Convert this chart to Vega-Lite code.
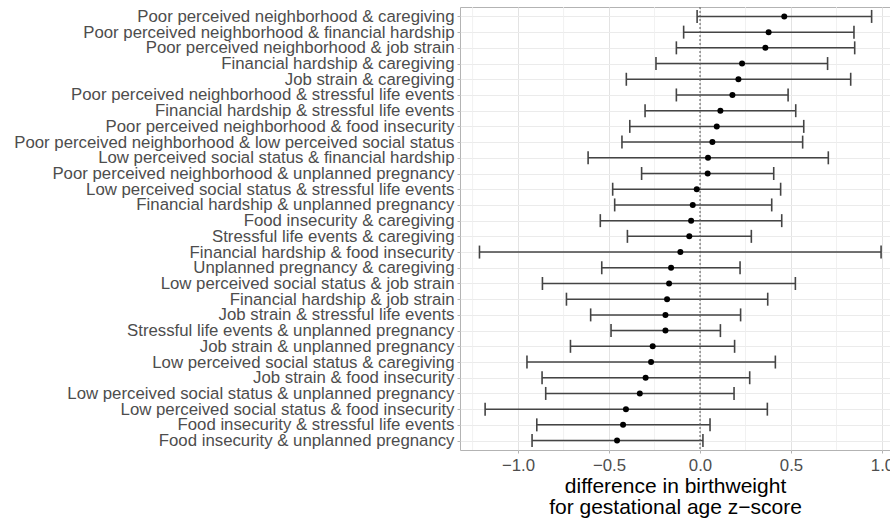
{
  "$schema": "https://vega.github.io/schema/vega-lite/v6.json",
  "width": 430,
  "height": 443,
  "autosize": {"type": "none"},
  "padding": {"left": 460, "top": 7, "right": 0, "bottom": 71},
  "background": "white",
  "config": {
    "view": {"stroke": "#b3b3b3", "strokeWidth": 1},
    "font": "Liberation Sans",
    "axis": {"gridColor": "#e3e3e3", "gridWidth": 1, "domain": false, "tickColor": "#b3b3b3", "tickSize": 3, "labelFont": "Liberation Sans", "labelColor": "#4d4d4d", "labelFontSize": 16.8, "titleFont": "Liberation Sans", "titleFontWeight": "normal", "titleColor": "#000000"},
    "axisX": {"labelPadding": 4, "titleFontSize": 21, "titleLineHeight": 21, "titlePadding": 2},
    "axisY": {"grid": true, "gridColor": "#ebebeb", "labelPadding": 3, "labelLimit": 500}
  },
  "datasets": {
    "est": [
      {"label": "Poor perceived neighborhood & caregiving", "est": 0.463, "lo": -0.016, "hi": 0.943},
      {"label": "Poor perceived neighborhood & financial hardship", "est": 0.377, "lo": -0.090, "hi": 0.846},
      {"label": "Poor perceived neighborhood & job strain", "est": 0.359, "lo": -0.130, "hi": 0.850},
      {"label": "Financial hardship & caregiving", "est": 0.231, "lo": -0.242, "hi": 0.701},
      {"label": "Job strain & caregiving", "est": 0.211, "lo": -0.405, "hi": 0.828},
      {"label": "Poor perceived neighborhood & stressful life events", "est": 0.178, "lo": -0.130, "hi": 0.484},
      {"label": "Financial hardship & stressful life events", "est": 0.112, "lo": -0.302, "hi": 0.526},
      {"label": "Poor perceived neighborhood & food insecurity", "est": 0.092, "lo": -0.386, "hi": 0.570},
      {"label": "Poor perceived neighborhood & low perceived social status", "est": 0.068, "lo": -0.429, "hi": 0.564},
      {"label": "Low perceived social status & financial hardship", "est": 0.044, "lo": -0.615, "hi": 0.705},
      {"label": "Poor perceived neighborhood & unplanned pregnancy", "est": 0.042, "lo": -0.321, "hi": 0.405},
      {"label": "Low perceived social status & stressful life events", "est": -0.018, "lo": -0.480, "hi": 0.443},
      {"label": "Financial hardship & unplanned pregnancy", "est": -0.040, "lo": -0.469, "hi": 0.394},
      {"label": "Food insecurity & caregiving", "est": -0.049, "lo": -0.548, "hi": 0.449},
      {"label": "Stressful life events & caregiving", "est": -0.059, "lo": -0.399, "hi": 0.282},
      {"label": "Financial hardship & food insecurity", "est": -0.108, "lo": -1.212, "hi": 0.995},
      {"label": "Unplanned pregnancy & caregiving", "est": -0.159, "lo": -0.540, "hi": 0.220},
      {"label": "Low perceived social status & job strain", "est": -0.170, "lo": -0.866, "hi": 0.524},
      {"label": "Financial hardship & job strain", "est": -0.181, "lo": -0.734, "hi": 0.372},
      {"label": "Job strain & stressful life events", "est": -0.190, "lo": -0.601, "hi": 0.223},
      {"label": "Stressful life events & unplanned pregnancy", "est": -0.190, "lo": -0.489, "hi": 0.112},
      {"label": "Job strain & unplanned pregnancy", "est": -0.260, "lo": -0.712, "hi": 0.190},
      {"label": "Low perceived social status & caregiving", "est": -0.269, "lo": -0.951, "hi": 0.414},
      {"label": "Job strain & food insecurity", "est": -0.299, "lo": -0.868, "hi": 0.273},
      {"label": "Low perceived social status & unplanned pregnancy", "est": -0.331, "lo": -0.848, "hi": 0.187},
      {"label": "Low perceived social status & food insecurity", "est": -0.407, "lo": -1.181, "hi": 0.370},
      {"label": "Food insecurity & stressful life events", "est": -0.423, "lo": -0.897, "hi": 0.055},
      {"label": "Food insecurity & unplanned pregnancy", "est": -0.456, "lo": -0.923, "hi": 0.016}
    ],
    "minor": [{"g": -1.25}, {"g": -0.75}, {"g": -0.25}, {"g": 0.25}, {"g": 0.75}],
    "zero": [{"z": 0}]
  },
  "layer": [
    {
      "data": {"name": "minor"},
      "mark": {"type": "rule", "color": "#eeeeee", "strokeWidth": 0.8},
      "encoding": {
        "x": {"field": "g", "type": "quantitative", "axis": {"values": [-1, -0.5, 0, 0.5, 1], "format": ".1f", "title": ["difference in birthweight", "for gestational age z\u2212score"]}}
      }
    },
    {
      "data": {"name": "est"},
      "mark": {"type": "rule", "color": "#444444", "strokeWidth": 1.5},
      "encoding": {
        "y": {"field": "label", "type": "nominal", "sort": null, "scale": {"type": "point", "padding": 0.6}, "axis": {"title": null}},
        "x": {"field": "lo", "type": "quantitative", "scale": {"domain": [-1.319, 1.044], "nice": false, "zero": false},
              "axis": {"values": [-1, -0.5, 0, 0.5, 1], "format": ".1f", "title": ["difference in birthweight", "for gestational age z\u2212score"]}},
        "x2": {"field": "hi"}
      }
    },
    {
      "data": {"name": "zero"},
      "mark": {"type": "rule", "color": "#555555", "strokeDash": [2, 2], "strokeWidth": 1},
      "encoding": {"x": {"field": "z", "type": "quantitative", "axis": {"values": [-1, -0.5, 0, 0.5, 1], "format": ".1f", "title": ["difference in birthweight", "for gestational age z\u2212score"]}}}
    },
    {
      "data": {"name": "est"},
      "mark": {"type": "tick", "orient": "vertical", "size": 13, "thickness": 1.6, "color": "#444444", "opacity": 1},
      "encoding": {
        "y": {"field": "label", "type": "nominal", "sort": null, "axis": {"title": null}},
        "x": {"field": "lo", "type": "quantitative", "axis": {"values": [-1, -0.5, 0, 0.5, 1], "format": ".1f", "title": ["difference in birthweight", "for gestational age z\u2212score"]}}
      }
    },
    {
      "data": {"name": "est"},
      "mark": {"type": "tick", "orient": "vertical", "size": 13, "thickness": 1.6, "color": "#444444", "opacity": 1},
      "encoding": {
        "y": {"field": "label", "type": "nominal", "sort": null, "axis": {"title": null}},
        "x": {"field": "hi", "type": "quantitative", "axis": {"values": [-1, -0.5, 0, 0.5, 1], "format": ".1f", "title": ["difference in birthweight", "for gestational age z\u2212score"]}}
      }
    },
    {
      "data": {"name": "est"},
      "mark": {"type": "circle", "color": "#000000", "size": 36, "opacity": 1},
      "encoding": {
        "y": {"field": "label", "type": "nominal", "sort": null, "axis": {"title": null}},
        "x": {"field": "est", "type": "quantitative", "axis": {"values": [-1, -0.5, 0, 0.5, 1], "format": ".1f", "title": ["difference in birthweight", "for gestational age z\u2212score"]}}
      }
    }
  ]
}
